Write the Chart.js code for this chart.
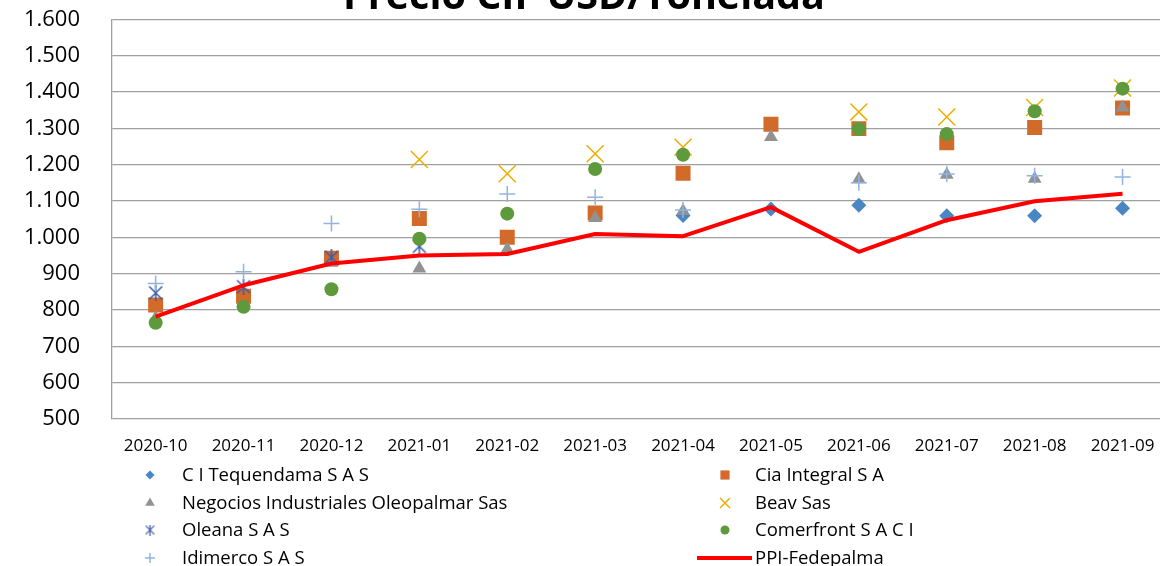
<!DOCTYPE html>
<html>
<head>
<meta charset="utf-8">
<script src="https://cdn.jsdelivr.net/npm/chart.js"></script>
<style>
  html, body { margin: 0; padding: 0; background: #fff; overflow: hidden; }
  #wrap { position: absolute; left: 0; top: -30px; width: 1180px; height: 596px; }
</style>
</head>
<body>
<div id="wrap"><canvas id="myChart"></canvas></div>
<script>
'use strict';
const months = ['2020-10', '2020-11', '2020-12', '2021-01', '2021-02', '2021-03',
  '2021-04', '2021-05', '2021-06', '2021-07', '2021-08', '2021-09'];

const tequendama = [null, null, null, null, null, null, 1060, 1078, 1088, 1059, 1059, 1080];
const ciaIntegral = [814, 838, 942, 1052, 1000, 1067, 1176, 1311, 1299, 1260, 1302, 1356];
const negocios = [778, null, 930, 914, 967, 1053, 1072, 1276, 1160, 1172, 1161, 1357];
const beav = [null, null, null, 1214, 1175, 1230, 1248, null, 1345, 1331, 1357, 1411];
const oleana = [847, 864, 945, 975, null, null, null, null, null, null, null, null];
const comerfront = [765, 809, 857, 996, 1065, 1188, 1227, null, 1298, 1284, 1347, 1409];
const idimerco = [873, 905, 1038, 1077, 1119, 1110, 1075, null, 1150, 1174, 1169, 1166];
const ppiFedepalma = [782, 868, 928, 950, 954, 1009, 1003, 1083, 960, 1047, 1099, 1120];

const yTicks = { min: 500, max: 1600, step: 100 };
const chartTitle = 'Precio CIF USD/Tonelada';

// x + vertical bar marker (excel "star")
function makeStar(size, color, lw) {
  let c = document.createElement('canvas');
  c.width = size; c.height = size;
  let g = c.getContext('2d');
  let m = lw;
  g.strokeStyle = color;
  g.lineWidth = lw;
  g.beginPath();
  g.moveTo(m, m); g.lineTo(size - m, size - m);
  g.moveTo(size - m, m); g.lineTo(m, size - m);
  g.moveTo(size / 2, 0); g.lineTo(size / 2, size);
  g.stroke();
  return c;
}
const starMark = makeStar(16, '#3a5ca8', 1.5);
const starSmall = makeStar(11, '#3a5ca8', 1.2);

function scatterSet(label, data, style, color, radius, opts) {
  return Object.assign({
    label: label,
    data: data,
    showLine: false,
    pointStyle: style,
    pointRadius: radius,
    pointHoverRadius: radius,
    pointBackgroundColor: color,
    pointBorderColor: color,
    pointBorderWidth: 0
  }, opts || {});
}

const datasets = [
  scatterSet('C I Tequendama S A S', tequendama, 'rectRot', '#4a86c4', 7.5),
  scatterSet('Cia Integral S A', ciaIntegral, 'rect', '#d26a2a', 10.6),
  scatterSet('Negocios Industriales Oleopalmar Sas', negocios, 'triangle', '#929292', 8),
  scatterSet('Beav Sas', beav, 'crossRot', '#ecae00', 12, { pointBorderWidth: 1.5 }),
  scatterSet('Oleana S A S', oleana, starMark, '#3a5ca8', 8),
  scatterSet('Comerfront S A C I', comerfront, 'circle', '#5e9a3c', 7),
  scatterSet('Idimerco S A S', idimerco, 'cross', '#8fb4e2', 8, { pointBorderWidth: 1.5 }),
  {
    label: 'PPI-Fedepalma',
    data: ppiFedepalma,
    borderColor: '#ff0000',
    backgroundColor: '#ff0000',
    borderWidth: 4,
    borderJoinStyle: 'round',
    pointRadius: 0,
    pointHoverRadius: 0,
    tension: 0
  }
];
// excel draws first series at the bottom
datasets.forEach((d, i) => { d.order = datasets.length - i; });

const legendPlugin = {
  id: 'twoColLegend',
  afterDraw(chart) {
    const ctx = chart.ctx;
    const cols = [{ mark: 150, text: 182 }, { mark: 725, text: 755 }];
    const rowY = [505, 533, 560, 588];
    const small = { rectRot: 4.5, rect: 6.5, triangle: 5.5, crossRot: 7, circle: 4.5, cross: 5 };
    ctx.save();
    chart.data.datasets.forEach((ds, i) => {
      const col = cols[i % 2];
      const y = rowY[Math.floor(i / 2)];
      if (ds.showLine === false) {
        if (typeof ds.pointStyle === 'string') {
          ctx.fillStyle = ds.pointBackgroundColor;
          ctx.strokeStyle = ds.pointBorderColor;
          ctx.lineWidth = ds.pointBorderWidth || 0;
          Chart.helpers.drawPoint(ctx, {
            pointStyle: ds.pointStyle, rotation: 0,
            radius: small[ds.pointStyle], borderWidth: ds.pointBorderWidth || 0
          }, col.mark, y);
        } else {
          ctx.drawImage(starSmall, col.mark - 5.5, y - 5.5);
        }
      } else {
        ctx.strokeStyle = ds.borderColor;
        ctx.lineWidth = 4;
        ctx.beginPath();
        ctx.moveTo(697, y);
        ctx.lineTo(752, y);
        ctx.stroke();
      }
      ctx.fillStyle = '#000';
      ctx.font = '18.5px "Open Sans"';
      ctx.textAlign = 'left';
      ctx.textBaseline = 'middle';
      ctx.fillText(ds.label, col.text, y + 1);
    });
    ctx.restore();
  }
};

const fmt = new Intl.NumberFormat('de-DE');
const gridColor = '#a0a0a0';

new Chart(document.getElementById('myChart'), {
  type: 'line',
  data: { labels: months, datasets: datasets },
  plugins: [legendPlugin],
  options: {
    responsive: true,
    maintainAspectRatio: false,
    animation: false,
    layout: { padding: { top: 0, right: 12, bottom: 107, left: 0 } },
    plugins: {
      legend: { display: false },
      tooltip: { enabled: false },
      title: {
        display: true,
        text: chartTitle,
        color: '#000',
        font: { family: '"Open Sans"', size: 39.5, weight: 'bold', lineHeight: 1.087 },
        padding: { top: 6.3, bottom: 0 }
      }
    },
    scales: {
      x: {
        type: 'category',
        offset: true,
        grid: { display: false, drawTicks: false },
        border: { display: false },
        ticks: {
          color: '#000',
          font: { family: '"Open Sans"', size: 17 },
          padding: 17,
          maxRotation: 0,
          autoSkip: false
        },
        afterFit(scale) { scale.height = 40; }
      },
      y: {
        min: yTicks.min,
        max: yTicks.max,
        grid: { color: gridColor, lineWidth: 1.3, drawTicks: false },
        border: { display: true, color: gridColor, width: 1.3 },
        ticks: {
          stepSize: yTicks.step,
          color: '#000',
          font: { family: '"Open Sans"', size: 22 },
          padding: 31.7,
          callback: (v) => fmt.format(v)
        },
        afterFit(scale) { scale.width = 111.7; }
      }
    }
  }
});
</script>
</body>
</html>
